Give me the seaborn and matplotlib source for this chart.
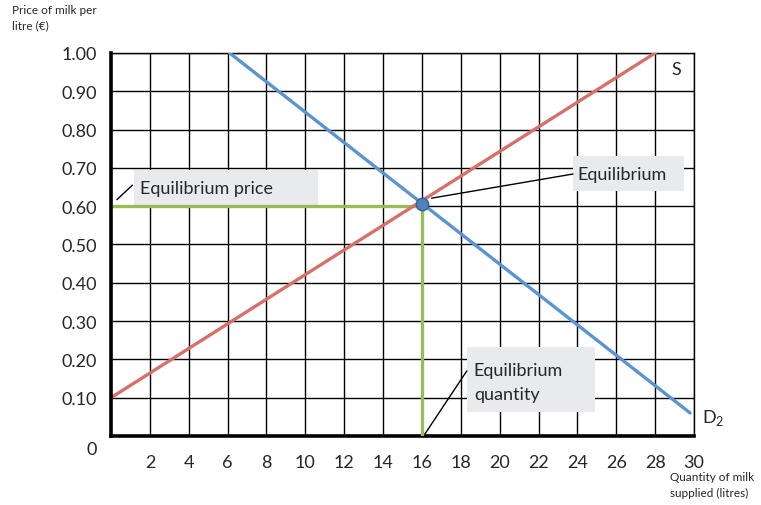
import numpy as np
import seaborn as sns
import matplotlib.pyplot as plt
from matplotlib.patches import Rectangle
from matplotlib.transforms import ScaledTranslation

# supply / demand curves
supply_q = [0, 28]
supply_p = [0.10, 1.00]
demand_q = [6.1, 29.8]
demand_p = [1.00, 0.06]
eq_q = 16
eq_p = 0.60

x_ticks = np.arange(2, 31, 2)
y_ticks = np.round(np.arange(0, 1.01, 0.1), 2)
y_labels = ['0'] + ['%.2f' % v for v in y_ticks[1:]]

sns.set_style('white')
plt.rcParams['font.family'] = ['Lato', 'DejaVu Sans']
plt.rcParams['mathtext.fontset'] = 'custom'
plt.rcParams['mathtext.rm'] = 'Lato'

fig = plt.figure(figsize=(7.61, 5.06), dpi=100)
ax = fig.add_axes([0.1459, 0.1364, 0.7661, 0.7569])

red = '#d6706a'
blue = '#5b94cf'
green = '#9bbb59'

sns.lineplot(x=supply_q, y=supply_p, ax=ax, color=red, lw=2.4, zorder=4)
sns.lineplot(x=demand_q, y=demand_p, ax=ax, color=blue, lw=2.4, zorder=4)
sns.lineplot(x=[0, eq_q], y=[eq_p, eq_p], ax=ax, color=green, lw=2.4, zorder=3,
             estimator=None, sort=False)
sns.lineplot(x=[eq_q, eq_q], y=[0, eq_p], ax=ax, color=green, lw=2.4, zorder=3,
             estimator=None, sort=False)
sns.scatterplot(x=[eq_q], y=[eq_p + 0.005], ax=ax, s=80, color='#4f81bd',
                edgecolor='#35608f', linewidth=1, zorder=6)

ax.set_xlim(0, 30)
ax.set_ylim(0, 1.0)
ax.set_xticks(x_ticks)
ax.set_yticks(y_ticks)
ax.set_yticklabels(y_labels)
ax.tick_params(axis='both', length=0, labelsize=13)
ax.tick_params(axis='x', pad=13)
ax.tick_params(axis='y', pad=10)
ax.grid(True, color='black', lw=1.0)
ax.set_axisbelow(True)
for side in ['top', 'right']:
    ax.spines[side].set_linewidth(1.0)
    ax.spines[side].set_color('black')
for side in ['left', 'bottom']:
    ax.spines[side].set_linewidth(2.6)
    ax.spines[side].set_color('black')
    ax.spines[side].set_zorder(5)
ax.spines['bottom'].set_zorder(2)

# nudge the "0" label down a bit like in the original
lab0 = ax.get_yticklabels()[0]
lab0.set_transform(lab0.get_transform() + ScaledTranslation(0, -8 / 72, fig.dpi_scale_trans))

box_col = '#e8eaed'
# equilibrium price
ax.add_patch(Rectangle((1.18, 0.603), 9.47, 0.091, facecolor=box_col, edgecolor='none', zorder=2.5))
ax.text(1.5, 0.648, 'Equilibrium price', fontsize=13, va='center', ha='left', zorder=7)
ax.plot([0.3, 1.1], [0.617, 0.655], color='black', lw=1.0, zorder=7)
# equilibrium point
ax.add_patch(Rectangle((23.77, 0.640), 5.71, 0.091, facecolor=box_col, edgecolor='none', zorder=2.5))
ax.text(24.0, 0.684, 'Equilibrium', fontsize=13, va='center', ha='left', zorder=7)
ax.plot([16.5, 23.77], [0.621, 0.684], color='black', lw=1.0, zorder=7)
# equilibrium quantity
ax.add_patch(Rectangle((18.31, 0.063), 6.59, 0.169, facecolor=box_col, edgecolor='none', zorder=2.5))
ax.text(18.67, 0.172, 'Equilibrium', fontsize=13, va='center', ha='left', zorder=7)
ax.text(18.67, 0.110, 'quantity', fontsize=13, va='center', ha='left', zorder=7)
ax.plot([16.15, 18.31], [0.005, 0.17], color='black', lw=1.0, zorder=7)

ax.text(28.85, 0.958, 'S', fontsize=13, va='center', ha='left')
ax.text(30.4, 0.05, r'D$_{\mathrm{2}}$', fontsize=13, va='center', ha='left', clip_on=False)

fig.text(12 / 761, 1 - 5 / 506, 'Price of milk per\nlitre (€)', fontsize=8.5,
         va='top', ha='left', linespacing=1.5)
fig.text(670 / 761, 1 - 472 / 506, 'Quantity of milk\nsupplied (litres)', fontsize=8.5,
         va='top', ha='left', linespacing=1.5)

fig.savefig('out.png', dpi=100)
